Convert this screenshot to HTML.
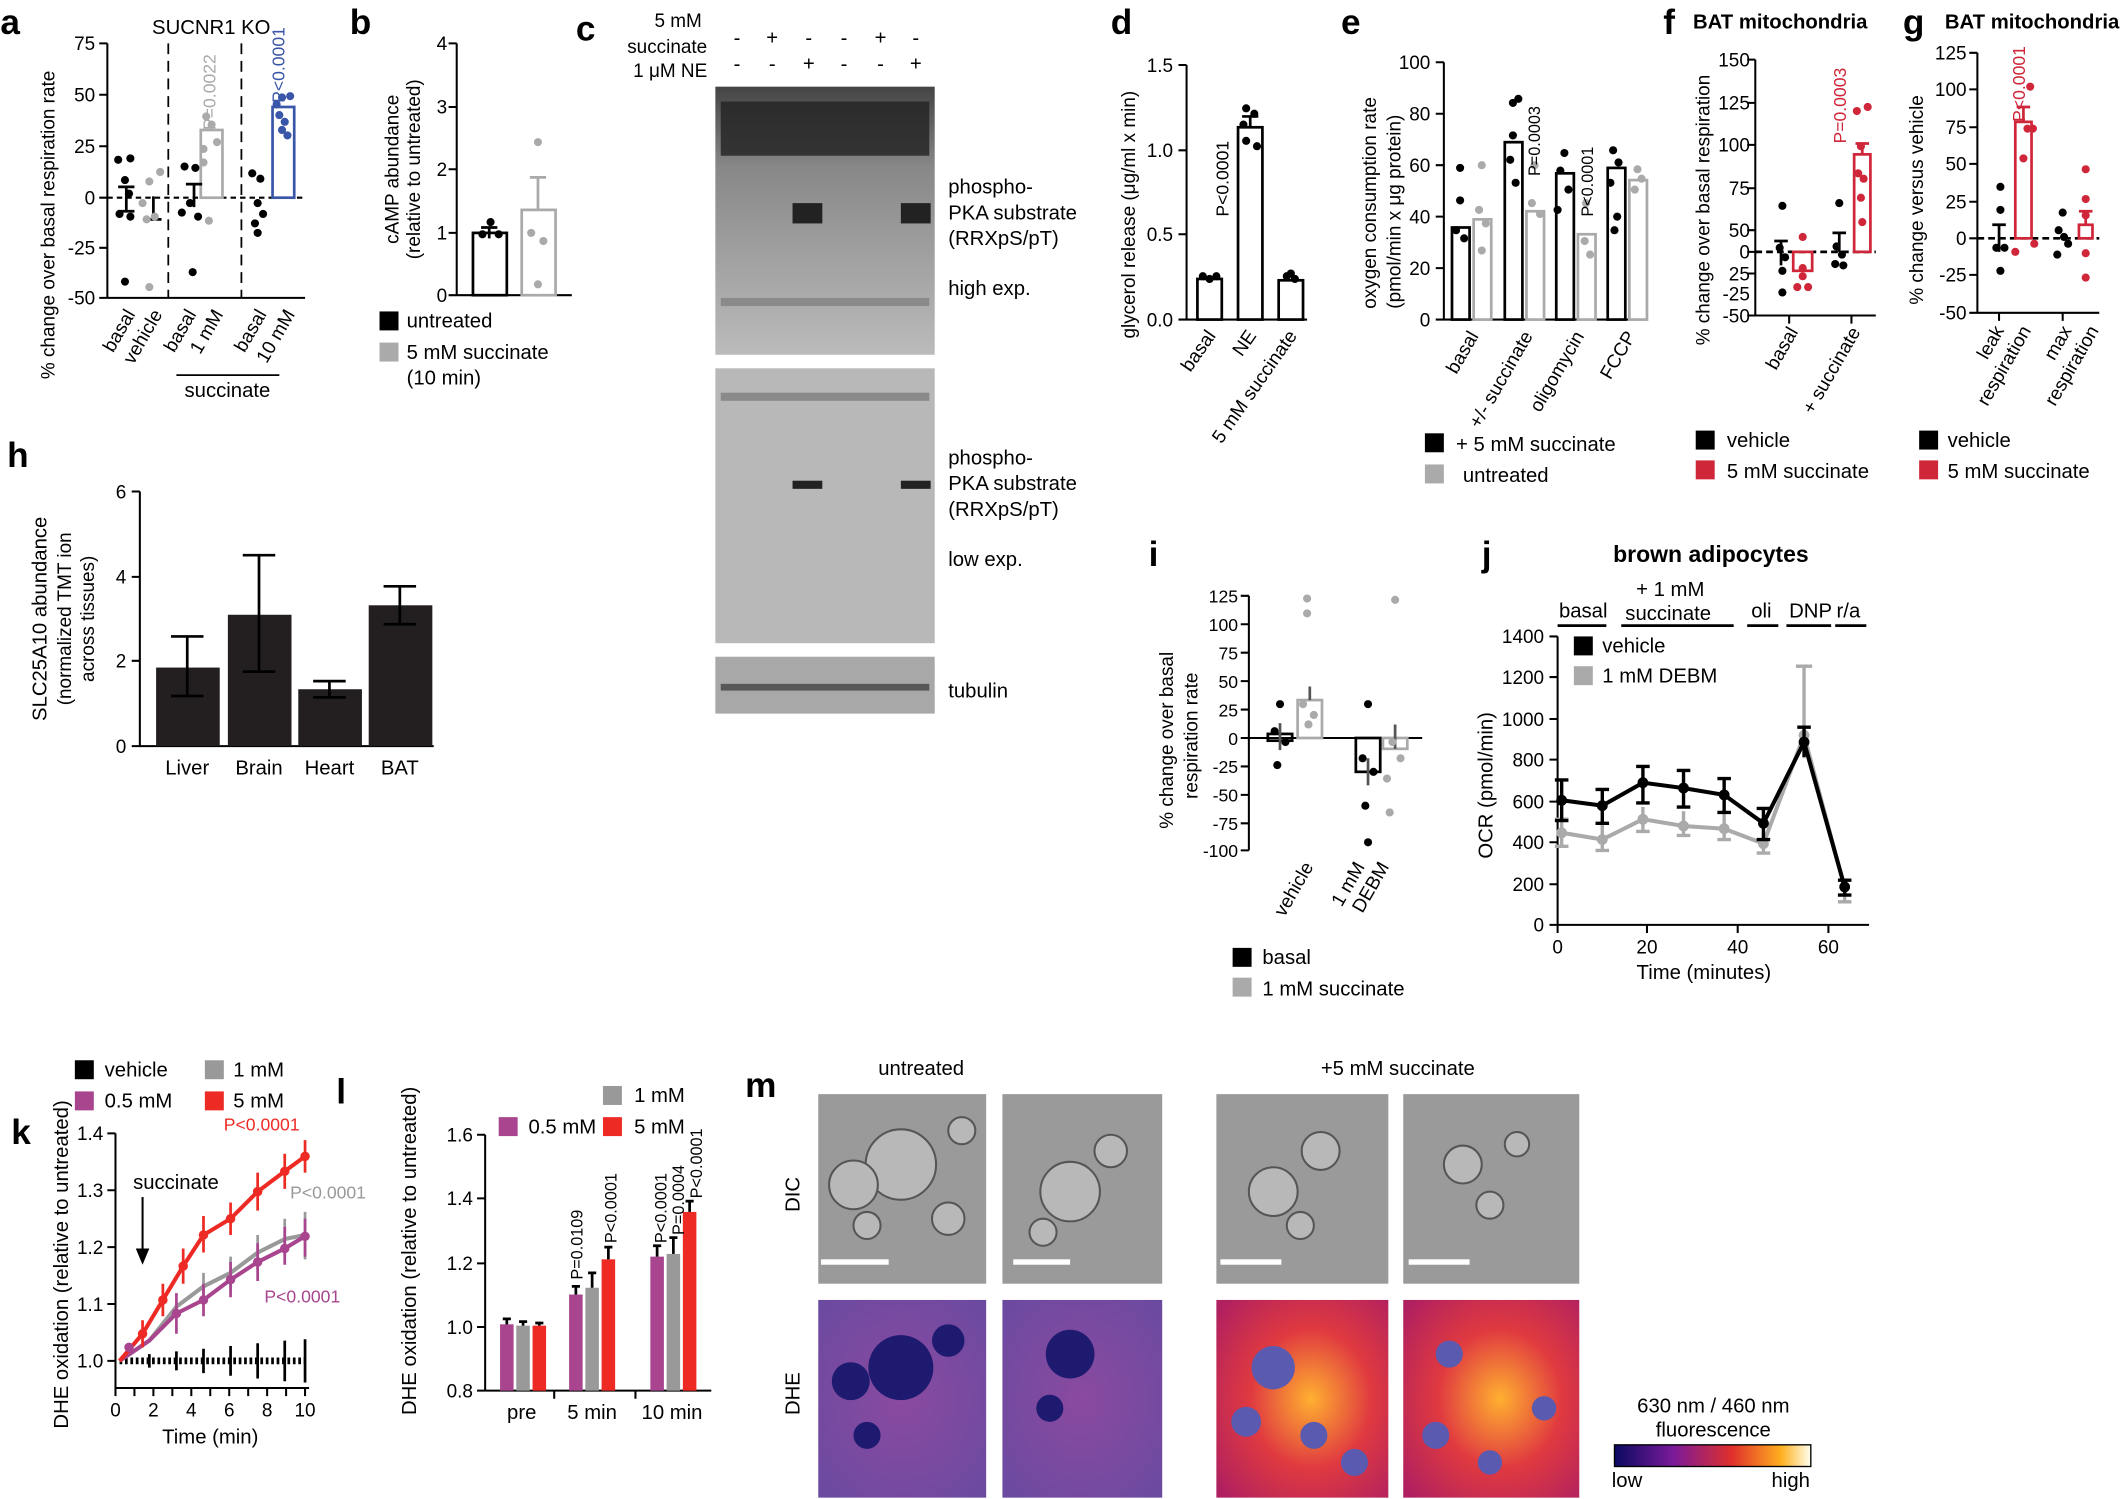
<!DOCTYPE html>
<html><head><meta charset="utf-8"><style>
html,body{margin:0;padding:0;background:#fff}
svg{display:block}
text{font-family:"Liberation Sans",Arial,sans-serif;fill:#000}
</style></head><body>
<svg width="2124" height="1499" viewBox="0 0 1568 1107" xmlns="http://www.w3.org/2000/svg">
<defs>
<linearGradient id="cb" x1="0" x2="1"><stop offset="0" stop-color="#0a0a60"/><stop offset="0.3" stop-color="#7a1a9a"/><stop offset="0.6" stop-color="#e0302a"/><stop offset="0.85" stop-color="#ffb020"/><stop offset="1" stop-color="#fffff0"/></linearGradient>
<radialGradient id="hot" cx="0.55" cy="0.5" r="0.7"><stop offset="0" stop-color="#ffb030"/><stop offset="0.5" stop-color="#e03a40"/><stop offset="1" stop-color="#b02060"/></radialGradient>
<radialGradient id="cool" cx="0.5" cy="0.5" r="0.7"><stop offset="0" stop-color="#8a4aa0"/><stop offset="1" stop-color="#6a4aa0"/></radialGradient>
<linearGradient id="blot" x1="0" y1="0" x2="0" y2="1"><stop offset="0" stop-color="#444"/><stop offset="0.3" stop-color="#888"/><stop offset="1" stop-color="#bbb"/></linearGradient>
</defs>
<g font-size="15">
<g font-size="26" font-weight="bold">
<text x="0" y="25">a</text><text x="258" y="25">b</text><text x="425" y="30">c</text><text x="820" y="25">d</text><text x="990" y="25">e</text><text x="1228" y="25">f</text><text x="1405" y="25">g</text>
<text x="5" y="345">h</text><text x="848" y="418">i</text><text x="1094" y="418">j</text><text x="8" y="845">k</text><text x="248" y="815">l</text><text x="550" y="810">m</text>
</g>

<!-- a -->
<text x="112" y="25" font-size="15">SUCNR1 KO</text>
<g stroke="#000" stroke-width="1.5" fill="none"><path d="M79 32V220H225M73 32H79M73 70H79M73 108H79M73 146H79M73 183H79M73 220H79"/></g>
<g font-size="14" text-anchor="end"><text x="70" y="37">75</text><text x="70" y="75">50</text><text x="70" y="113">25</text><text x="70" y="151">0</text><text x="70" y="188">-25</text><text x="70" y="225">-50</text></g>
<path d="M79 146H225" stroke="#000" stroke-dasharray="4 3" stroke-width="1.5"/>
<path d="M124 32V220M178 32V220" stroke="#000" stroke-dasharray="8 5" stroke-width="1.3"/>
<rect x="148" y="96" width="16" height="50" fill="none" stroke="#aaa" stroke-width="2"/>
<rect x="201" y="79" width="16" height="67" fill="none" stroke="#3a56a8" stroke-width="2"/>
<path d="M93 138V156M87 138H99M87 156H99M113 145V162M107 162H119M143 136V153M137 136H149" stroke="#000" stroke-width="2"/>
<g fill="#000"><circle cx="87" cy="118" r="3"/><circle cx="96" cy="117" r="3"/><circle cx="92" cy="133" r="3"/><circle cx="95" cy="143" r="3"/><circle cx="88" cy="158" r="3"/><circle cx="96" cy="160" r="3"/><circle cx="92" cy="208" r="3"/><circle cx="136" cy="123" r="3"/><circle cx="144" cy="124" r="3"/><circle cx="140" cy="150" r="3"/><circle cx="134" cy="157" r="3"/><circle cx="146" cy="160" r="3"/><circle cx="142" cy="201" r="3"/><circle cx="186" cy="128" r="3"/><circle cx="192" cy="132" r="3"/><circle cx="190" cy="150" r="3"/><circle cx="188" cy="165" r="3"/><circle cx="194" cy="158" r="3"/><circle cx="190" cy="172" r="3"/></g>
<g fill="#aaa"><circle cx="150" cy="120" r="3"/><circle cx="154" cy="163" r="3"/><circle cx="110" cy="134" r="3"/><circle cx="105" cy="150" r="3"/><circle cx="114" cy="160" r="3"/><circle cx="108" cy="162" r="3"/><circle cx="110" cy="212" r="3"/><circle cx="118" cy="127" r="3"/><circle cx="152" cy="86" r="3"/><circle cx="156" cy="92" r="3"/><circle cx="160" cy="105" r="3"/><circle cx="150" cy="110" r="3"/></g>
<g fill="#3a56a8"><circle cx="204" cy="77" r="3"/><circle cx="208" cy="72" r="3"/><circle cx="214" cy="71" r="3"/><circle cx="210" cy="90" r="3"/><circle cx="206" cy="85" r="3"/><circle cx="212" cy="100" r="3"/><circle cx="208" cy="96" r="3"/></g>
<text transform="translate(159 96) rotate(-90)" font-size="13" style="fill:#aaa">P=0.0022</text>
<text transform="translate(210 76) rotate(-90)" font-size="13" style="fill:#3a56a8">P&lt;0.0001</text>
<g font-size="14"><text transform="translate(100 232) rotate(-60)" text-anchor="end">basal</text><text transform="translate(120 232) rotate(-60)" text-anchor="end">vehicle</text><text transform="translate(145 232) rotate(-60)" text-anchor="end">basal</text><text transform="translate(165 232) rotate(-60)" text-anchor="end">1 mM</text><text transform="translate(197 232) rotate(-60)" text-anchor="end">basal</text><text transform="translate(218 232) rotate(-60)" text-anchor="end">10 mM</text></g>
<path d="M130 277H206" stroke="#000" stroke-width="1.3"/><text x="136" y="293">succinate</text>
<text transform="translate(40 280) rotate(-90)" font-size="14">% change over basal respiration rate</text>

<!-- b -->
<path d="M337 32V218H422M331 32H337M331 79H337M331 125H337M331 172H337M331 218H337" stroke="#000" stroke-width="1.5" fill="none"/>
<g font-size="14" text-anchor="end"><text x="330" y="37">4</text><text x="330" y="84">3</text><text x="330" y="130">2</text><text x="330" y="177">1</text><text x="330" y="223">0</text></g>
<rect x="349" y="172" width="25" height="46" fill="none" stroke="#000" stroke-width="2"/>
<rect x="385" y="155" width="25" height="63" fill="none" stroke="#aaa" stroke-width="2"/>
<path d="M361 168V176M355 168H367" stroke="#000" stroke-width="2"/><path d="M397 131V155M391 131H403" stroke="#aaa" stroke-width="2"/>
<g fill="#000"><circle cx="356" cy="173" r="3"/><circle cx="362" cy="164" r="3"/><circle cx="368" cy="173" r="3"/></g>
<g fill="#aaa"><circle cx="397" cy="105" r="3"/><circle cx="392" cy="172" r="3"/><circle cx="401" cy="178" r="3"/><circle cx="397" cy="210" r="3"/></g>
<text transform="translate(294 125) rotate(-90)" font-size="14" text-anchor="middle">cAMP abundance</text><text transform="translate(310 125) rotate(-90)" font-size="14" text-anchor="middle">(relative to untreated)</text>
<rect x="280" y="230" width="14" height="14"/><text x="300" y="242">untreated</text>
<rect x="280" y="253" width="14" height="14" fill="#aaa"/><text x="300" y="265">5 mM succinate</text><text x="300" y="284">(10 min)</text>

<!-- c -->
<text x="518" y="20" text-anchor="end" font-size="14">5 mM</text><text x="522" y="39" text-anchor="end" font-size="14">succinate</text><text x="522" y="57" text-anchor="end" font-size="14">1 μM NE</text>
<g font-size="15" text-anchor="middle"><text x="544" y="33">-</text><text x="570" y="33">+</text><text x="597" y="33">-</text><text x="623" y="33">-</text><text x="650" y="33">+</text><text x="676" y="33">-</text><text x="544" y="52">-</text><text x="570" y="52">-</text><text x="597" y="52">+</text><text x="623" y="52">-</text><text x="650" y="52">-</text><text x="676" y="52">+</text></g>
<rect x="528" y="64" width="162" height="198" fill="url(#blot)"/>
<rect x="528" y="272" width="162" height="203" fill="#b8b8b8"/>
<rect x="528" y="485" width="162" height="42" fill="#a8a8a8"/>
<g fill="#222"><rect x="532" y="75" width="154" height="40" opacity="0.8"/><rect x="585" y="150" width="22" height="15"/><rect x="665" y="150" width="22" height="15"/><rect x="585" y="355" width="22" height="6"/><rect x="665" y="355" width="22" height="6"/><rect x="532" y="505" width="154" height="5" opacity="0.6"/><rect x="532" y="290" width="154" height="6" opacity="0.3"/><rect x="532" y="220" width="154" height="6" opacity="0.25"/></g>
<g font-size="15"><text x="700" y="143">phospho-</text><text x="700" y="162">PKA substrate</text><text x="700" y="181">(RRXpS/pT)</text><text x="700" y="218">high exp.</text><text x="700" y="343">phospho-</text><text x="700" y="362">PKA substrate</text><text x="700" y="381">(RRXpS/pT)</text><text x="700" y="418">low exp.</text><text x="700" y="515">tubulin</text></g>

<!-- d -->
<path d="M876 48V236H965M870 48H876M870 111H876M870 173H876M870 236H876" stroke="#000" stroke-width="1.5" fill="none"/>
<g font-size="14" text-anchor="end"><text x="866" y="53">1.5</text><text x="866" y="116">1.0</text><text x="866" y="178">0.5</text><text x="866" y="241">0.0</text></g>
<rect x="884" y="206" width="18" height="30" fill="none" stroke="#000" stroke-width="2"/><rect x="914" y="94" width="18" height="142" fill="none" stroke="#000" stroke-width="2"/><rect x="944" y="207" width="18" height="29" fill="none" stroke="#000" stroke-width="2"/>
<path d="M923 86V94M917 86H929" stroke="#000" stroke-width="2"/>
<g fill="#000"><circle cx="920" cy="80" r="3"/><circle cx="926" cy="84" r="3"/><circle cx="918" cy="92" r="3"/><circle cx="928" cy="108" r="3"/><circle cx="920" cy="104" r="3"/><circle cx="888" cy="204" r="3"/><circle cx="893" cy="206" r="3"/><circle cx="898" cy="204" r="3"/><circle cx="950" cy="204" r="3"/><circle cx="956" cy="206" r="3"/><circle cx="953" cy="202" r="3"/></g>
<text transform="translate(907 160) rotate(-90)" font-size="13">P&lt;0.0001</text>
<text transform="translate(838 250) rotate(-90)" font-size="14">glycerol release (μg/ml x min)</text>
<g font-size="14"><text transform="translate(898 248) rotate(-55)" text-anchor="end">basal</text><text transform="translate(928 248) rotate(-55)" text-anchor="end">NE</text><text transform="translate(958 248) rotate(-55)" text-anchor="end">5 mM succinate</text></g>

<!-- e -->
<path d="M1066 46V236H1215M1060 46H1066M1060 84H1066M1060 122H1066M1060 160H1066M1060 198H1066M1060 236H1066" stroke="#000" stroke-width="1.5" fill="none"/>
<g font-size="14" text-anchor="end"><text x="1056" y="51">100</text><text x="1056" y="89">80</text><text x="1056" y="127">60</text><text x="1056" y="165">40</text><text x="1056" y="203">20</text><text x="1056" y="241">0</text></g>
<g fill="none" stroke-width="2"><rect x="1072" y="168" width="13" height="68" stroke="#000"/><rect x="1088" y="162" width="13" height="74" stroke="#aaa"/><rect x="1111" y="105" width="13" height="131" stroke="#000"/><rect x="1127" y="156" width="13" height="80" stroke="#aaa"/><rect x="1149" y="128" width="13" height="108" stroke="#000"/><rect x="1165" y="173" width="13" height="63" stroke="#aaa"/><rect x="1187" y="124" width="13" height="112" stroke="#000"/><rect x="1203" y="133" width="13" height="103" stroke="#aaa"/></g>
<g fill="#000"><circle cx="1078" cy="124" r="3"/><circle cx="1078" cy="148" r="3"/><circle cx="1075" cy="170" r="3"/><circle cx="1081" cy="176" r="3"/><circle cx="1117" cy="76" r="3"/><circle cx="1121" cy="73" r="3"/><circle cx="1117" cy="100" r="3"/><circle cx="1115" cy="118" r="3"/><circle cx="1119" cy="135" r="3"/><circle cx="1155" cy="113" r="3"/><circle cx="1152" cy="126" r="3"/><circle cx="1158" cy="140" r="3"/><circle cx="1150" cy="155" r="3"/><circle cx="1191" cy="111" r="3"/><circle cx="1195" cy="120" r="3"/><circle cx="1189" cy="135" r="3"/><circle cx="1194" cy="160" r="3"/><circle cx="1192" cy="170" r="3"/></g>
<g fill="#aaa"><circle cx="1094" cy="122" r="3"/><circle cx="1092" cy="155" r="3"/><circle cx="1097" cy="165" r="3"/><circle cx="1094" cy="185" r="3"/><circle cx="1133" cy="122" r="3"/><circle cx="1131" cy="150" r="3"/><circle cx="1137" cy="158" r="3"/><circle cx="1171" cy="150" r="3"/><circle cx="1170" cy="178" r="3"/><circle cx="1174" cy="188" r="3"/><circle cx="1209" cy="125" r="3"/><circle cx="1207" cy="140" r="3"/><circle cx="1212" cy="132" r="3"/></g>
<g font-size="12"><text transform="translate(1137 130) rotate(-90)">P=0.0003</text><text transform="translate(1176 160) rotate(-90)">P&lt;0.0001</text></g>
<text transform="translate(1016 228) rotate(-90)" font-size="14">oxygen consumption rate</text><text transform="translate(1034 228) rotate(-90)" font-size="14">(pmol/min x μg protein)</text>
<g font-size="14"><text transform="translate(1092 248) rotate(-60)" text-anchor="end">basal</text><text transform="translate(1132 248) rotate(-60)" text-anchor="end">+/- succinate</text><text transform="translate(1170 248) rotate(-60)" text-anchor="end">oligomycin</text><text transform="translate(1208 248) rotate(-60)" text-anchor="end">FCCP</text></g>
<rect x="1052" y="320" width="14" height="14"/><text x="1075" y="333">+ 5 mM succinate</text>
<rect x="1052" y="343" width="14" height="14" fill="#aaa"/><text x="1080" y="356">untreated</text>

<!-- f -->
<text x="1250" y="21" font-weight="bold" font-size="15">BAT mitochondria</text>
<path d="M1296 44V233H1385M1290 44H1296M1290 76H1296M1290 107H1296M1290 139H1296M1290 170H1296M1290 186H1296M1290 202H1296M1290 233H1296M1321 233V239M1367 233V239" stroke="#000" stroke-width="1.5" fill="none"/>
<g font-size="14" text-anchor="end"><text x="1292" y="49">150</text><text x="1292" y="81">125</text><text x="1292" y="112">100</text><text x="1292" y="144">75</text><text x="1292" y="175">50</text><text x="1292" y="207">25</text><text x="1292" y="191">0</text><text x="1292" y="222">-25</text><text x="1292" y="238">-50</text></g>
<path d="M1296 186H1385" stroke="#000" stroke-dasharray="5 3" stroke-width="2"/>
<rect x="1324" y="186" width="14" height="14" fill="none" stroke="#d0263a" stroke-width="2"/>
<rect x="1369" y="114" width="12" height="72" fill="none" stroke="#d0263a" stroke-width="2"/>
<path d="M1375 106V114M1370 106H1380" stroke="#d0263a" stroke-width="2"/>
<path d="M1315 178V196M1310 178H1320M1358 172V186M1353 172H1363" stroke="#000" stroke-width="2"/>
<text transform="translate(1363 106) rotate(-90)" font-size="13" style="fill:#d0263a">P=0.0003</text>
<g fill="#d0263a"><circle cx="1371" cy="82" r="3"/><circle cx="1379" cy="79" r="3"/><circle cx="1374" cy="108" r="3"/><circle cx="1372" cy="128" r="3"/><circle cx="1376" cy="132" r="3"/><circle cx="1374" cy="146" r="3"/><circle cx="1375" cy="164" r="3"/><circle cx="1331" cy="175" r="3"/><circle cx="1331" cy="198" r="3"/><circle cx="1327" cy="212" r="3"/><circle cx="1335" cy="212" r="3"/><circle cx="1331" cy="204" r="3"/></g>
<g fill="#000"><circle cx="1316" cy="152" r="3"/><circle cx="1314" cy="183" r="3"/><circle cx="1318" cy="190" r="3"/><circle cx="1316" cy="200" r="3"/><circle cx="1316" cy="216" r="3"/><circle cx="1358" cy="150" r="3"/><circle cx="1356" cy="182" r="3"/><circle cx="1360" cy="188" r="3"/><circle cx="1355" cy="195" r="3"/><circle cx="1361" cy="196" r="3"/></g>
<text transform="translate(1262 255) rotate(-90)" font-size="14">% change over basal respiration</text>
<g font-size="14"><text transform="translate(1328 245) rotate(-60)" text-anchor="end">basal</text><text transform="translate(1374 245) rotate(-60)" text-anchor="end">+ succinate</text></g>
<rect x="1252" y="318" width="14" height="14"/><text x="1275" y="330">vehicle</text>
<rect x="1252" y="340" width="14" height="14" fill="#d0263a"/><text x="1275" y="353">5 mM succinate</text>

<!-- g -->
<text x="1436" y="21" font-weight="bold" font-size="15">BAT mitochondria</text>
<path d="M1460 39V231H1550M1454 39H1460M1454 66H1460M1454 94H1460M1454 121H1460M1454 149H1460M1454 176H1460M1454 203H1460M1454 231H1460M1476 231V237M1523 231V237" stroke="#000" stroke-width="1.5" fill="none"/>
<g font-size="14" text-anchor="end"><text x="1452" y="44">125</text><text x="1452" y="71">100</text><text x="1452" y="99">75</text><text x="1452" y="126">50</text><text x="1452" y="154">25</text><text x="1452" y="181">0</text><text x="1452" y="208">-25</text><text x="1452" y="236">-50</text></g>
<path d="M1460 176H1550" stroke="#000" stroke-dasharray="5 3" stroke-width="2"/>
<rect x="1488" y="90" width="12" height="86" fill="none" stroke="#d0263a" stroke-width="2"/>
<rect x="1535" y="166" width="10" height="10" fill="none" stroke="#d0263a" stroke-width="2"/>
<path d="M1494 79V90M1489 79H1499M1540 156V166M1535 156H1545" stroke="#d0263a" stroke-width="2"/>
<path d="M1476 166V186M1471 166H1481" stroke="#000" stroke-width="2"/>
<text transform="translate(1495 90) rotate(-90)" font-size="13" style="fill:#d0263a">P&lt;0.0001</text>
<g fill="#d0263a"><circle cx="1499" cy="64" r="3"/><circle cx="1497" cy="95" r="3"/><circle cx="1501" cy="95" r="3"/><circle cx="1494" cy="117" r="3"/><circle cx="1488" cy="186" r="3"/><circle cx="1502" cy="180" r="3"/><circle cx="1540" cy="125" r="3"/><circle cx="1540" cy="147" r="3"/><circle cx="1540" cy="159" r="3"/><circle cx="1540" cy="187" r="3"/><circle cx="1540" cy="205" r="3"/></g>
<g fill="#000"><circle cx="1477" cy="138" r="3"/><circle cx="1477" cy="155" r="3"/><circle cx="1474" cy="183" r="3"/><circle cx="1480" cy="183" r="3"/><circle cx="1477" cy="200" r="3"/><circle cx="1523" cy="157" r="3"/><circle cx="1520" cy="170" r="3"/><circle cx="1524" cy="175" r="3"/><circle cx="1527" cy="180" r="3"/><circle cx="1519" cy="188" r="3"/></g>
<text transform="translate(1420 225) rotate(-90)" font-size="14">% change versus vehicle</text>
<g font-size="14"><text transform="translate(1480 244) rotate(-60)" text-anchor="end">leak</text><text transform="translate(1500 244) rotate(-60)" text-anchor="end">respiration</text><text transform="translate(1530 244) rotate(-60)" text-anchor="end">max</text><text transform="translate(1550 244) rotate(-60)" text-anchor="end">respiration</text></g>
<rect x="1417" y="318" width="14" height="14"/><text x="1438" y="330">vehicle</text>
<rect x="1417" y="340" width="14" height="14" fill="#d0263a"/><text x="1438" y="353">5 mM succinate</text>

<!-- h -->
<path d="M103 363V551H320M97 363H103M97 426H103M97 488H103M97 551H103" stroke="#000" stroke-width="1.5" fill="none"/>
<g font-size="14" text-anchor="end"><text x="93" y="368">6</text><text x="93" y="431">4</text><text x="93" y="493">2</text><text x="93" y="556">0</text></g>
<g fill="#231f20"><rect x="115" y="493" width="47" height="58"/><rect x="168" y="454" width="47" height="97"/><rect x="220" y="509" width="47" height="42"/><rect x="272" y="447" width="47" height="104"/></g>
<path d="M138 470V514M126 470H150M126 514H150M191 410V496M179 410H203M179 496H203M243 503V515M231 503H255M231 515H255M295 433V461M283 433H307M283 461H307" stroke="#000" stroke-width="2"/>
<g font-size="15" text-anchor="middle"><text x="138" y="572">Liver</text><text x="191" y="572">Brain</text><text x="243" y="572">Heart</text><text x="295" y="572">BAT</text></g>
<text transform="translate(34 457) rotate(-90)" text-anchor="middle" font-size="15">SLC25A10 abundance</text><text transform="translate(52 457) rotate(-90)" text-anchor="middle" font-size="14">(normalized TMT ion</text><text transform="translate(69 457) rotate(-90)" text-anchor="middle" font-size="14">across tissues)</text>

<!-- i -->
<path d="M922 440V628M916 440H922M916 461H922M916 482H922M916 503H922M916 524H922M916 545H922M916 566H922M916 587H922M916 608H922M916 628H922" stroke="#000" stroke-width="1.5" fill="none"/>
<g font-size="13" text-anchor="end"><text x="914" y="445">125</text><text x="914" y="466">100</text><text x="914" y="487">75</text><text x="914" y="508">50</text><text x="914" y="529">25</text><text x="914" y="550">0</text><text x="914" y="571">-25</text><text x="914" y="592">-50</text><text x="914" y="613">-75</text><text x="914" y="633">-100</text></g>
<path d="M922 545H1050" stroke="#000" stroke-width="1.5"/>
<rect x="936" y="542" width="18" height="5" fill="none" stroke="#000" stroke-width="2"/><rect x="958" y="517" width="18" height="28" fill="none" stroke="#aaa" stroke-width="2"/>
<rect x="1001" y="545" width="18" height="25" fill="none" stroke="#000" stroke-width="2"/><rect x="1021" y="545" width="18" height="8" fill="none" stroke="#aaa" stroke-width="2"/>
<path d="M945 534V554M967 507V517M1010 560V580M1030 535V553" stroke="#555" stroke-width="2"/>
<g fill="#aaa"><circle cx="965" cy="442" r="3"/><circle cx="965" cy="453" r="3"/><circle cx="962" cy="520" r="3"/><circle cx="970" cy="528" r="3"/><circle cx="966" cy="535" r="3"/><circle cx="1030" cy="443" r="3"/><circle cx="1026" cy="600" r="3"/><circle cx="1028" cy="548" r="3"/><circle cx="1034" cy="560" r="3"/><circle cx="1024" cy="575" r="3"/></g>
<g fill="#000"><circle cx="945" cy="520" r="3"/><circle cx="941" cy="540" r="3"/><circle cx="949" cy="548" r="3"/><circle cx="943" cy="565" r="3"/><circle cx="1010" cy="520" r="3"/><circle cx="1006" cy="560" r="3"/><circle cx="1014" cy="570" r="3"/><circle cx="1008" cy="595" r="3"/><circle cx="1010" cy="622" r="3"/></g>
<text transform="translate(866 612) rotate(-90)" font-size="14">% change over basal</text><text transform="translate(884 590) rotate(-90)" font-size="14">respiration rate</text>
<g font-size="14"><text transform="translate(970 640) rotate(-60)" text-anchor="end">vehicle</text><text transform="translate(1008 640) rotate(-60)" text-anchor="end">1 mM</text><text transform="translate(1026 640) rotate(-60)" text-anchor="end">DEBM</text></g>
<rect x="910" y="700" width="14" height="14"/><text x="932" y="712">basal</text>
<rect x="910" y="722" width="14" height="14" fill="#aaa"/><text x="932" y="735">1 mM succinate</text>

<!-- j -->
<text x="1191" y="415" font-weight="bold" font-size="17">brown adipocytes</text>
<g font-size="15"><text x="1151" y="456">basal</text><text x="1208" y="440">+ 1 mM</text><text x="1200" y="458">succinate</text><text x="1293" y="456">oli</text><text x="1321" y="456">DNP</text><text x="1356" y="456">r/a</text></g>
<path d="M1150 462H1186M1197 462H1280M1290 462H1313M1319 462H1352M1355 462H1378" stroke="#000" stroke-width="2"/>
<path d="M1150 470V683H1380M1144 470H1150M1144 500H1150M1144 531H1150M1144 561H1150M1144 592H1150M1144 622H1150M1144 653H1150M1144 683H1150M1150 683V689M1216 683V689M1283 683V689M1350 683V689" stroke="#000" stroke-width="1.5" fill="none"/>
<g font-size="14" text-anchor="end"><text x="1140" y="475">1400</text><text x="1140" y="505">1200</text><text x="1140" y="536">1000</text><text x="1140" y="566">800</text><text x="1140" y="597">600</text><text x="1140" y="627">400</text><text x="1140" y="658">200</text><text x="1140" y="688">0</text></g>
<g font-size="14" text-anchor="middle"><text x="1150" y="704">0</text><text x="1216" y="704">20</text><text x="1283" y="704">40</text><text x="1350" y="704">60</text></g>
<text x="1258" y="723" text-anchor="middle" font-size="15">Time (minutes)</text>
<text transform="translate(1102 580) rotate(-90)" text-anchor="middle" font-size="15">OCR (pmol/min)</text>
<g stroke="#aaa" stroke-width="2.5"><path d="M1153 605V625M1148 605H1158M1148 625H1158M1183 609V628M1178 628H1188M1213 596V614M1208 614H1218M1243 599V617M1238 617H1248M1273 601V620M1268 620H1278M1302 614V630M1297 630H1307M1332 492V560M1326 492H1338M1362 650V666M1357 666H1367"/></g>
<polyline points="1153,615 1183,620 1213,605 1243,610 1273,612 1302,623 1332,543 1362,656" fill="none" stroke="#aaa" stroke-width="3"/>
<g fill="#aaa"><circle cx="1153" cy="615" r="4"/><circle cx="1183" cy="620" r="4"/><circle cx="1213" cy="605" r="4"/><circle cx="1243" cy="610" r="4"/><circle cx="1273" cy="612" r="4"/><circle cx="1302" cy="623" r="4"/><circle cx="1332" cy="543" r="4"/></g>
<g stroke="#000" stroke-width="2.5"><path d="M1153 576V606M1148 576H1158M1148 606H1158M1183 583V608M1178 583H1188M1178 608H1188M1213 566V593M1208 566H1218M1208 593H1218M1243 569V596M1238 569H1248M1238 596H1248M1273 575V600M1268 575H1278M1268 600H1278M1302 597V620M1297 597H1307M1297 620H1307M1332 537V559M1327 537H1337M1362 650V661M1357 650H1367M1357 661H1367"/></g>
<polyline points="1153,591 1183,595 1213,578 1243,582 1273,587 1302,608 1332,548 1362,655" fill="none" stroke="#000" stroke-width="3"/>
<g fill="#000"><circle cx="1153" cy="591" r="4"/><circle cx="1183" cy="595" r="4"/><circle cx="1213" cy="578" r="4"/><circle cx="1243" cy="582" r="4"/><circle cx="1273" cy="587" r="4"/><circle cx="1302" cy="608" r="4"/><circle cx="1332" cy="548" r="4"/><circle cx="1362" cy="655" r="4"/></g>
<rect x="1162" y="470" width="14" height="14"/><text x="1183" y="482">vehicle</text>
<rect x="1162" y="492" width="14" height="14" fill="#aaa"/><text x="1183" y="504">1 mM DEBM</text>

<!-- k -->
<rect x="55" y="783" width="14" height="14"/><text x="77" y="795">vehicle</text><rect x="151" y="783" width="14" height="14" fill="#999"/><text x="172" y="795">1 mM</text>
<rect x="55" y="806" width="14" height="14" fill="#a8458e"/><text x="77" y="818">0.5 mM</text><rect x="151" y="806" width="14" height="14" fill="#ee2a24"/><text x="172" y="818">5 mM</text>
<path d="M85 837V1025H228M79 837H85M79 879H85M79 921H85M79 963H85M79 1005H85M85 1025V1031M99 1025V1031M113 1025V1031M127 1025V1031M141 1025V1031M155 1025V1031M169 1025V1031M183 1025V1031M197 1025V1031M211 1025V1031M225 1025V1031" stroke="#000" stroke-width="1.5" fill="none"/>
<g font-size="14" text-anchor="end"><text x="76" y="842">1.4</text><text x="76" y="884">1.3</text><text x="76" y="926">1.2</text><text x="76" y="968">1.1</text><text x="76" y="1010">1.0</text></g>
<g font-size="14" text-anchor="middle"><text x="85" y="1046">0</text><text x="113" y="1046">2</text><text x="141" y="1046">4</text><text x="169" y="1046">6</text><text x="197" y="1046">8</text><text x="225" y="1046">10</text></g>
<text x="155" y="1066" text-anchor="middle" font-size="15">Time (min)</text>
<text transform="translate(50 1055) rotate(-90)" font-size="15">DHE oxidation (relative to untreated)</text>
<path d="M88 1005 L225 1005" stroke="#000" stroke-width="5" stroke-dasharray="2 2"/>
<path d="M110 1000V1010M130 998V1012M150 996V1014M170 994V1016M190 992V1018M210 990V1020M225 989V1021" stroke="#000" stroke-width="2"/>
<path d="M88 1005L110 990L130 965L150 950L170 940L190 925L210 915L225 912" fill="none" stroke="#999" stroke-width="3"/>
<path d="M88 1005L110 990L130 970L150 960L170 945L190 932L210 922L225 913" fill="none" stroke="#a8458e" stroke-width="3"/>
<path d="M88 1005L105 985L120 960L135 935L150 912L170 900L190 880L210 865L225 854" fill="none" stroke="#ee2a24" stroke-width="3"/>
<g stroke="#999" stroke-width="2"><path d="M150 940V962M170 928V952M190 912V938M210 900V928M225 895V930"/></g>
<g stroke="#a8458e" stroke-width="2"><path d="M130 955V985M150 948V972M170 932V958M190 918V946M210 906V934M225 900V928"/></g>
<g stroke="#ee2a24" stroke-width="2"><path d="M105 975V995M120 948V972M135 922V948M150 898V925M170 888V912M190 866V894M210 852V878M225 842V866"/></g>
<g fill="#ee2a24"><circle cx="105" cy="985" r="3.5"/><circle cx="120" cy="960" r="3.5"/><circle cx="135" cy="935" r="3.5"/><circle cx="150" cy="912" r="3.5"/><circle cx="170" cy="900" r="3.5"/><circle cx="190" cy="880" r="3.5"/><circle cx="210" cy="865" r="3.5"/><circle cx="225" cy="854" r="3.5"/></g>
<g fill="#a8458e"><circle cx="95" cy="995" r="3.5"/><circle cx="130" cy="970" r="3.5"/><circle cx="150" cy="960" r="3.5"/><circle cx="170" cy="945" r="3.5"/><circle cx="190" cy="932" r="3.5"/><circle cx="210" cy="922" r="3.5"/><circle cx="225" cy="913" r="3.5"/></g>
<text x="98" y="878">succinate</text><path d="M105 884V930" stroke="#000" stroke-width="1.5"/><path d="M100 922L105 934L110 922Z"/>
<text x="165" y="835" font-size="13" style="fill:#ee2a24">P&lt;0.0001</text><text x="214" y="885" font-size="13" style="fill:#999">P&lt;0.0001</text><text x="195" y="962" font-size="13" style="fill:#a8458e">P&lt;0.0001</text>

<!-- l -->
<rect x="445" y="802" width="14" height="14" fill="#999"/><text x="468" y="814">1 mM</text>
<rect x="368" y="825" width="14" height="14" fill="#a8458e"/><text x="390" y="837">0.5 mM</text><rect x="445" y="825" width="14" height="14" fill="#ee2a24"/><text x="468" y="837">5 mM</text>
<path d="M358 838V1027H525M352 838H358M352 885H358M352 933H358M352 980H358M352 1027H358M409 1027V1033M469 1027V1033" stroke="#000" stroke-width="1.5" fill="none"/>
<g font-size="14" text-anchor="end"><text x="349" y="843">1.6</text><text x="349" y="890">1.4</text><text x="349" y="938">1.2</text><text x="349" y="985">1.0</text><text x="349" y="1032">0.8</text></g>
<g><rect x="369" y="978" width="10" height="49" fill="#a8458e"/><rect x="381" y="979" width="10" height="48" fill="#999"/><rect x="393" y="979" width="10" height="48" fill="#ee2a24"/>
<rect x="420" y="956" width="10" height="71" fill="#a8458e"/><rect x="432" y="951" width="10" height="76" fill="#999"/><rect x="444" y="930" width="10" height="97" fill="#ee2a24"/>
<rect x="480" y="928" width="10" height="99" fill="#a8458e"/><rect x="492" y="926" width="10" height="101" fill="#999"/><rect x="504" y="895" width="10" height="132" fill="#ee2a24"/></g>
<path d="M374 974V978M371 974H377M386 976V979M383 976H389M398 977V979M395 977H401M425 950V956M422 950H428M437 940V951M434 940H440M449 921V930M446 921H452M485 920V928M482 920H488M497 914V926M494 914H500M509 887V895M506 887H512" stroke="#000" stroke-width="2"/>
<g font-size="15" text-anchor="middle"><text x="385" y="1048">pre</text><text x="437" y="1048">5 min</text><text x="496" y="1048">10 min</text></g>
<g font-size="12"><text transform="translate(430 945) rotate(-90)">P=0.0109</text><text transform="translate(455 918) rotate(-90)">P&lt;0.0001</text><text transform="translate(492 918) rotate(-90)">P&lt;0.0001</text><text transform="translate(505 912) rotate(-90)">P=0.0004</text><text transform="translate(518 885) rotate(-90)">P&lt;0.0001</text></g>
<text transform="translate(307 1045) rotate(-90)" font-size="15">DHE oxidation (relative to untreated)</text>

<!-- m -->
<text x="680" y="794" text-anchor="middle">untreated</text><text x="1032" y="794" text-anchor="middle">+5 mM succinate</text>
<text transform="translate(590 895) rotate(-90)">DIC</text><text transform="translate(590 1045) rotate(-90)">DHE</text>
<g fill="#9a9a9a"><rect x="604" y="808" width="124" height="140"/><rect x="740" y="808" width="118" height="140"/><rect x="898" y="808" width="127" height="140"/><rect x="1036" y="808" width="130" height="140"/></g>
<g fill="#b8b8b8" stroke="#555" stroke-width="1.5"><circle cx="665" cy="860" r="26"/><circle cx="630" cy="875" r="18"/><circle cx="700" cy="900" r="12"/><circle cx="640" cy="905" r="10"/><circle cx="710" cy="835" r="10"/><circle cx="790" cy="880" r="22"/><circle cx="820" cy="850" r="12"/><circle cx="770" cy="910" r="10"/><circle cx="940" cy="880" r="18"/><circle cx="975" cy="850" r="14"/><circle cx="960" cy="905" r="10"/><circle cx="1080" cy="860" r="14"/><circle cx="1100" cy="890" r="10"/><circle cx="1120" cy="845" r="9"/></g>
<g fill="#fff"><rect x="606" y="930" width="50" height="4"/><rect x="748" y="930" width="42" height="4"/><rect x="901" y="930" width="45" height="4"/><rect x="1040" y="930" width="45" height="4"/></g>
<rect x="604" y="960" width="124" height="146" fill="url(#cool)"/><rect x="740" y="960" width="118" height="146" fill="url(#cool)"/>
<rect x="898" y="960" width="127" height="146" fill="url(#hot)"/><rect x="1036" y="960" width="130" height="146" fill="url(#hot)"/>
<g fill="#1e1a70"><circle cx="665" cy="1010" r="24"/><circle cx="628" cy="1020" r="14"/><circle cx="640" cy="1060" r="10"/><circle cx="700" cy="990" r="12"/><circle cx="790" cy="1000" r="18"/><circle cx="775" cy="1040" r="10"/></g>
<g fill="#5a5ab0"><circle cx="940" cy="1010" r="16"/><circle cx="920" cy="1050" r="11"/><circle cx="970" cy="1060" r="10"/><circle cx="1000" cy="1080" r="10"/><circle cx="1070" cy="1000" r="10"/><circle cx="1060" cy="1060" r="10"/><circle cx="1140" cy="1040" r="9"/><circle cx="1100" cy="1080" r="9"/></g>
<text x="1265" y="1043" text-anchor="middle">630 nm / 460 nm</text><text x="1265" y="1061" text-anchor="middle">fluorescence</text>
<rect x="1192" y="1067" width="145" height="16" fill="url(#cb)" stroke="#000"/>
<text x="1190" y="1098">low</text><text x="1308" y="1098">high</text>
</g>
</svg>
</body></html>
